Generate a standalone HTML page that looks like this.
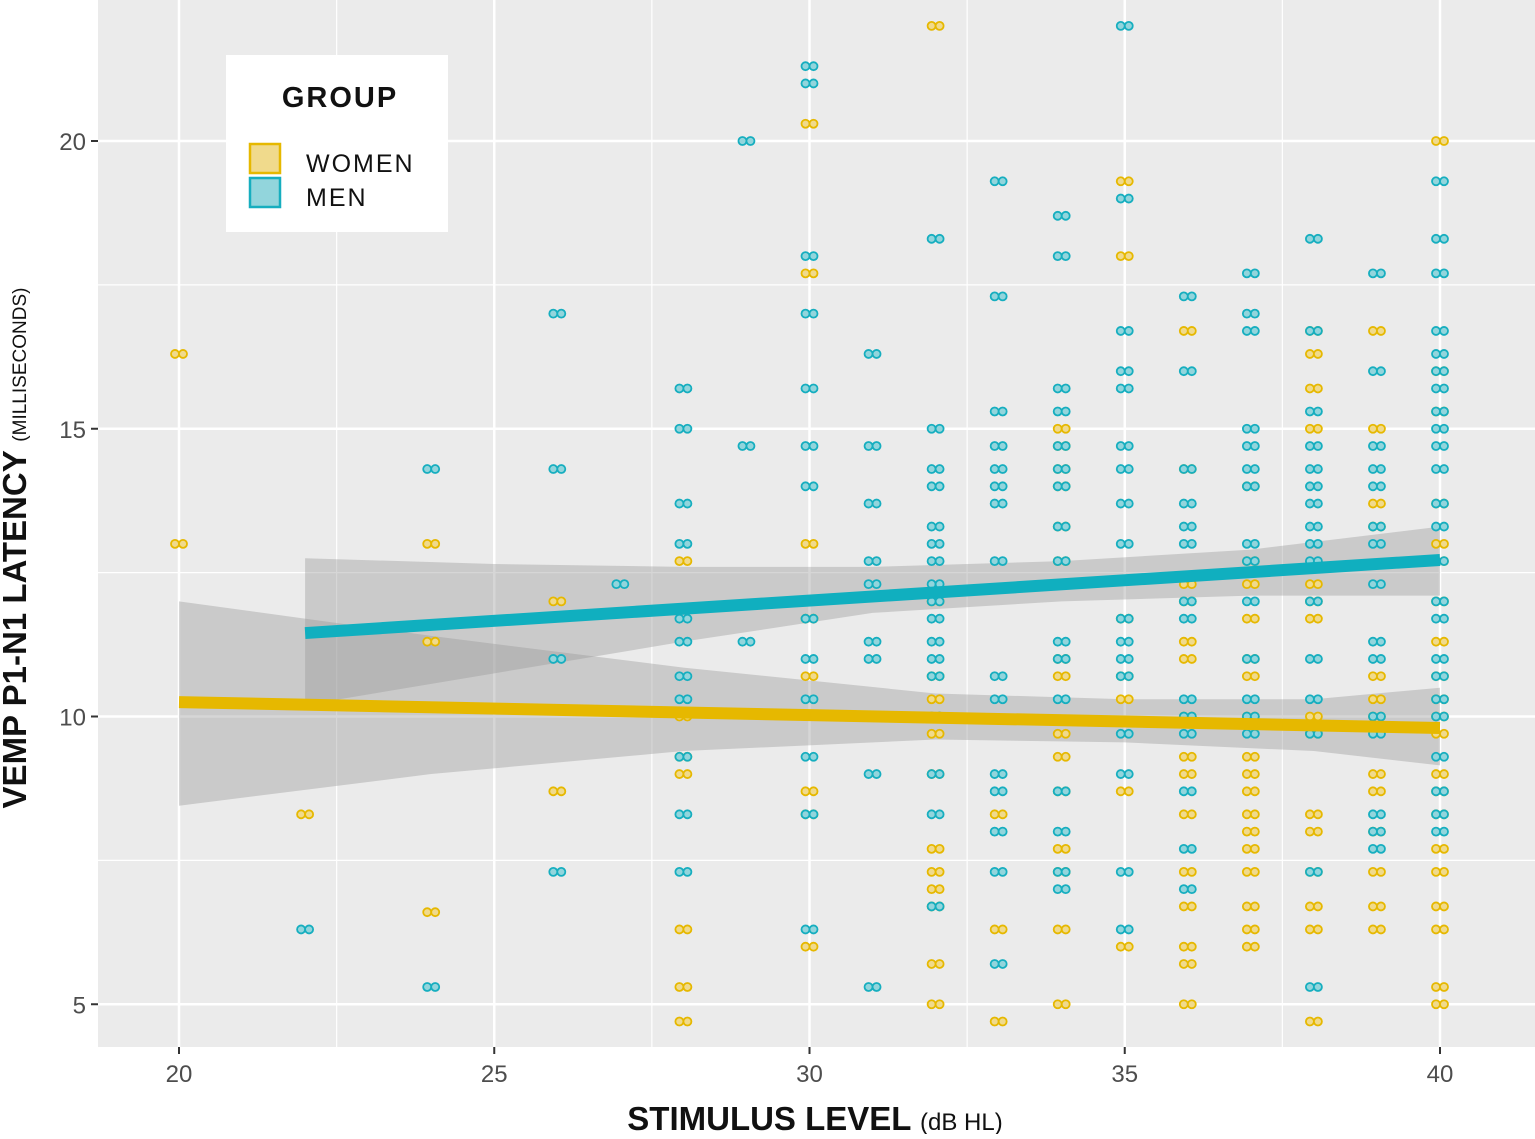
<!DOCTYPE html>
<html><head><meta charset="utf-8"><style>
body{margin:0;background:#fff;font-family:"Liberation Sans","DejaVu Sans",sans-serif;}
svg text{font-family:"Liberation Sans","DejaVu Sans",sans-serif;}
</style></head><body>
<svg id="chart" width="1535" height="1134" viewBox="0 0 1535 1134" xmlns="http://www.w3.org/2000/svg">
<rect x="98" y="0" width="1437" height="1047" fill="#ebebeb"/>
<g id="grid"></g>
<g id="bands"></g>
<g id="pts"></g>
<g id="lines"></g>
<g id="axes"></g>
<text x="815" y="1130" text-anchor="middle" font-size="33" font-weight="bold" fill="#111">STIMULUS LEVEL <tspan font-size="24" font-weight="normal">(dB HL)</tspan></text>
<text transform="translate(26,548) rotate(-90)" text-anchor="middle" font-size="33" font-weight="bold" fill="#111">VEMP P1-N1 LATENCY <tspan font-size="19" font-weight="normal">(MILLISECONDS)</tspan></text>
<g>
<rect x="226" y="55" width="222" height="177" fill="#fff"/>
<text x="340" y="107" text-anchor="middle" font-size="29" font-weight="bold" letter-spacing="2" fill="#111">GROUP</text>
<rect x="250" y="144" width="30" height="29" fill="#f0da8c" stroke="#e6b800" stroke-width="2.5"/>
<text x="306" y="172" font-size="25" letter-spacing="2" fill="#111">WOMEN</text>
<rect x="250" y="178" width="30" height="29" fill="#92d5dc" stroke="#16aebf" stroke-width="2.5"/>
<text x="306" y="206" font-size="25" letter-spacing="2" fill="#111">MEN</text>
</g>
</svg>
<script>
const xTicks=[20,25,30,35,40];
const yTicks=[5,10,15,20];
const menData={22:[6.3],24:[14.3,5.3],26:[17,14.3,11,7.3],27:[12.3],
28:[15.7,15,13.7,13,11.7,11.3,10.7,10.3,9.3,8.3,7.3],29:[20,14.7,11.3],
30:[21.3,21,18,17,15.7,14.7,14,11.7,11,10.3,9.3,8.3,6.3],31:[16.3,14.7,13.7,12.7,12.3,11.3,11,10,9,5.3],
32:[18.3,15,14.3,14,13.3,13,12.7,12.3,12,11.7,11.3,11,10.7,10,9,8.3,6.7],
33:[19.3,17.3,15.3,14.7,14.3,14,13.7,12.7,10.7,10.3,9,8.7,8,7.3,5.7],
34:[18.7,18,15.7,15.3,14.7,14.3,14,13.3,12.7,12.3,11.3,11,10.3,8.7,8,7.3,7],
35:[22,19,16.7,16,15.7,14.7,14.3,13.7,13,11.7,11.3,11,10.7,9.7,9,7.3,6.3],
36:[17.3,16,14.3,13.7,13.3,13,12,11.7,10.3,10,9.7,8.7,7.7,7],
37:[17.7,17,16.7,15,14.7,14.3,14,13,12.7,12,11,10.3,10,9.7],
38:[18.3,16.7,15.3,14.7,14.3,14,13.7,13.3,13,12.7,12,11,10.3,9.7,7.3,5.3],
39:[17.7,16,14.7,14.3,14,13.3,13,12.3,11.3,11,10,9.7,8.3,8,7.7],
40:[19.3,18.3,17.7,16.7,16.3,16,15.7,15.3,15,14.7,14.3,13.7,13.3,12.7,12,11.7,11,10.7,10.3,10,9.3,8.7,8.3,8]};
const womenData={20:[16.3,13],22:[8.3],24:[13,11.3,6.6],26:[12,8.7],28:[12.7,10,9.3,9,6.3,5.3,4.7],
30:[20.3,17.7,13,11.7,10.7,8.7,8.3,6],32:[22,12,10.7,10.3,10,9.7,9,7.7,7.3,7,6.7,5.7,5],33:[8.3,6.3,4.7],
34:[15,14.7,14.3,14,13.3,12.7,12.3,11,10.7,9.7,9.3,8.7,7.7,7.3,6.3,5],35:[19.3,18,11.7,10.7,10.3,8.7,6],
36:[16.7,14.3,12.3,12,11.3,11,10,9.3,9,8.3,7.3,6.7,6,5.7,5],
37:[14,12.7,12.3,11.7,11,10.7,10,9.3,9,8.7,8.3,8,7.7,7.3,6.7,6.3,6],
38:[16.7,16.3,15.7,15,12.3,12,11.7,10,9.7,8.3,8,7.3,6.7,6.3,4.7],
39:[16.7,15,13.7,13.3,10.7,10.3,10,9,8.7,8,7.3,6.7,6.3],
40:[20,16,15.3,13.7,13,12.7,12,11.3,10.7,10.3,10,9.7,9,8.7,8.3,7.7,7.3,6.7,6.3,5.3,5]};
const menLine=[[22,11.45],[40,12.72]];
const womenLine=[[20,10.25],[40,9.8]];
const menBandX=[22,25,28,31,34,37,40];
const menBandLo=[10.2,10.75,11.3,11.8,12.0,12.1,12.1];
const menBandHi=[12.75,12.65,12.6,12.6,12.7,12.9,13.3];
const womenBandX=[20,24,28,32,35,38,40];
const womenBandLo=[8.45,9.0,9.4,9.6,9.55,9.4,9.15];
const womenBandHi=[12.0,11.4,10.85,10.4,10.3,10.3,10.5];
const X=v=>179+(v-20)*63.05, Y=v=>141+(20-v)*57.55;
const NS="http://www.w3.org/2000/svg";
function mk(parent,tag,attrs){const e=document.createElementNS(NS,tag);for(const k in attrs)e.setAttribute(k,attrs[k]);document.getElementById(parent).appendChild(e);return e;}
// grid
for(let v=17.5;v<=45;v+=2.5){const maj=v%5===0;const e=mk('grid','line',{x1:X(v),x2:X(v),y1:0,y2:1047,stroke:'#fff','stroke-width':maj?2.5:1.2});

}
for(let v=2.5;v<=22.5;v+=2.5){const maj=v%5===0;const e=mk('grid','line',{x1:98,x2:1535,y1:Y(v),y2:Y(v),stroke:'#fff','stroke-width':maj?2.5:1.2});

}
// bands
function band(xs,lo,hi,name){let d='M'+xs.map((x,i)=>X(x)+','+Y(hi[i])).join('L');for(let i=xs.length-1;i>=0;i--)d+='L'+X(xs[i])+','+Y(lo[i]);d+='Z';
const e=mk('bands','path',{d:d,fill:'#999','fill-opacity':0.4});

}
band(womenBandX,womenBandLo,womenBandHi,'women-confidence-band');
band(menBandX,menBandLo,menBandHi,'men-confidence-band');
// points
function pts(data,fill,stroke,name){for(const k in data){for(const v of data[k]){
for(const dx of [-4,4]){const e=mk('pts','circle',{cx:X(+k)+dx,cy:Y(v),r:4,fill:fill,stroke:stroke,'stroke-width':1.8});

}}}}
pts(womenData,'#f0da8c','#e6b800','women-point');
pts(menData,'#92d5dc','#16aebf','men-point');
// lines
function ln(p,c,name){const e=mk('lines','line',{x1:X(p[0][0]),y1:Y(p[0][1]),x2:X(p[1][0]),y2:Y(p[1][1]),stroke:c,'stroke-width':12});

}
ln(womenLine,'#e6b800','women-regression-line');
ln(menLine,'#10afbf','men-regression-line');
// axes ticks
for(const t of xTicks){const e=mk('axes','line',{x1:X(t),x2:X(t),y1:1047,y2:1054,stroke:'#333','stroke-width':2});


const tx=mk('axes','text',{x:X(t),y:1082,'text-anchor':'middle','font-size':24,fill:'#4d4d4d'});tx.textContent=t;

}
for(const t of yTicks){const e=mk('axes','line',{x1:91,x2:98,y1:Y(t),y2:Y(t),stroke:'#333','stroke-width':2});


const tx=mk('axes','text',{x:86,y:Y(t)+9,'text-anchor':'end','font-size':24,fill:'#4d4d4d'});tx.textContent=t;

}
</script>
</body></html>
